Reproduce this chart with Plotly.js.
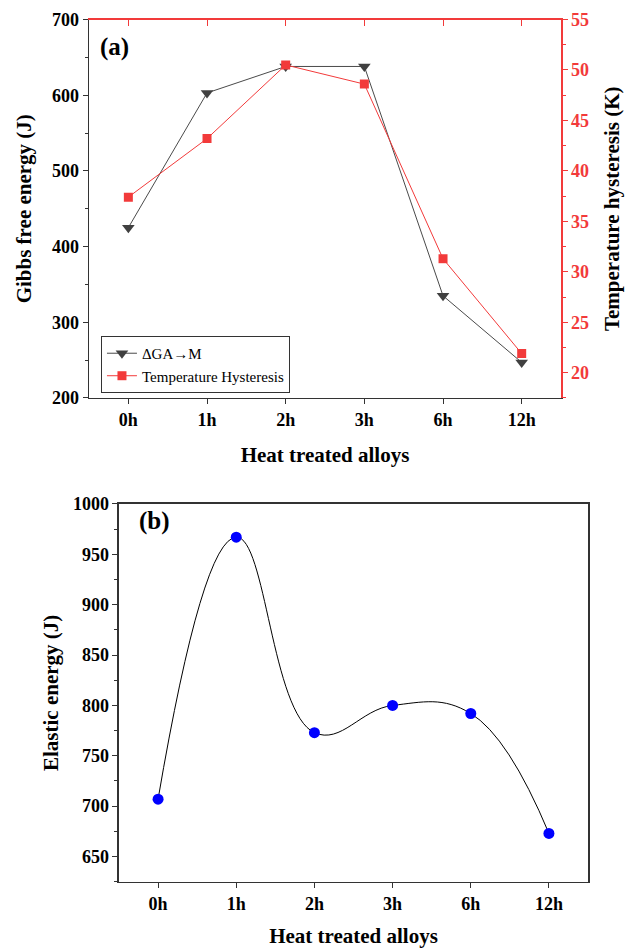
<!DOCTYPE html>
<html>
<head>
<meta charset="utf-8">
<script src="https://cdn.plot.ly/plotly-3.0.1.min.js"></script>
<style>html,body{margin:0;padding:0;background:#fff;}#chart{width:635px;height:948px;}</style>
</head>
<body>
<div id="chart"></div>
<script>
// Data
const categories = ["0h", "1h", "2h", "3h", "6h", "12h"];
const gibbsEnergy = [425, 603, 638, 638, 335, 247];
const tempHysteresis = [37.4, 43.2, 50.5, 48.6, 31.3, 21.9];
const elasticEnergy = [707, 967, 773, 800, 792, 673];

const serif = "Liberation Serif, Times New Roman, serif";
const tickFont = {family: serif, size: 18, color: "#000", weight: "bold"};
const titleFont = {family: serif, size: 21, color: "#000", weight: "bold"};
const red = "#f23a3a";

const traces = [
  {
    x: categories, y: gibbsEnergy, xaxis: "x", yaxis: "y",
    name: "ΔGA→M", mode: "lines+markers",
    line: {color: "#4a4a4a", width: 1},
    marker: {symbol: "triangle-down", size: 11, color: "#404040"}
  },
  {
    x: categories, y: tempHysteresis, xaxis: "x2", yaxis: "y2",
    name: "Temperature Hysteresis", mode: "lines+markers",
    line: {color: red, width: 1},
    marker: {symbol: "square", size: 9, color: red}
  },
  {
    x: categories, y: elasticEnergy, xaxis: "x3", yaxis: "y3",
    name: "Elastic energy", mode: "lines+markers", showlegend: false,
    line: {color: "#000", width: 1, shape: "spline", smoothing: 1.2},
    marker: {symbol: "circle", size: 11, color: "#0000ff"}
  }
];

const layout = {
  width: 635, height: 948,
  margin: {l: 0, r: 0, t: 0, b: 0},
  paper_bgcolor: "#fff", plot_bgcolor: "rgba(0,0,0,0)",
  showlegend: true,
  legend: {
    x: 0.159, y: 0.6456, xanchor: "left", yanchor: "top",
    bgcolor: "#fff", bordercolor: "#333", borderwidth: 1,
    font: {family: serif, size: 15, color: "#000"},
    tracegroupgap: 0, itemwidth: 30
  },
  xaxis: {
    domain: [0.1402, 0.8835], anchor: "y", type: "category",
    categoryorder: "array", categoryarray: categories,
    range: [-0.5, 5.5], showline: true, linecolor: "#333", linewidth: 1.5,
    ticks: "outside", ticklen: 5, tickcolor: "#333", showgrid: false, zeroline: false,
    tickfont: tickFont,
    title: {text: "Heat treated alloys", font: titleFont, standoff: 18},
    automargin: false
  },
  xaxis2: {
    overlaying: "x", side: "top", anchor: "y2", type: "category",
    categoryorder: "array", categoryarray: categories,
    range: [-0.5, 5.5], showline: true, linecolor: red, linewidth: 1.5,
    ticks: "inside", ticklen: 6, tickcolor: red, showticklabels: false,
    showgrid: false, zeroline: false, automargin: false
  },
  yaxis: {
    domain: [0.5802, 0.9794], anchor: "x",
    range: [200, 700], dtick: 100, showline: true, linecolor: "#333", linewidth: 1.5,
    ticks: "outside", ticklen: 5, tickcolor: "#333",
    minor: {ticks: "outside", ticklen: 3, dtick: 50, tickcolor: "#333"},
    showgrid: false, zeroline: false, tickfont: tickFont,
    title: {text: "Gibbs free energy (J)", font: titleFont, standoff: 14},
    automargin: false
  },
  yaxis2: {
    overlaying: "y", side: "right", anchor: "x",
    range: [17.5, 55], dtick: 5, showline: true, linecolor: red, linewidth: 1.5,
    ticks: "outside", ticklen: 5, tickcolor: red,
    minor: {ticks: "outside", ticklen: 3, dtick: 2.5, tickcolor: red},
    showgrid: false, zeroline: false,
    tickfont: {family: serif, size: 18, color: red, weight: "bold"},
    title: {text: "Temperature hysteresis (K)", font: titleFont, standoff: 16},
    automargin: false
  },
  xaxis3: {
    domain: [0.1874, 0.9260], anchor: "y3", type: "category",
    categoryorder: "array", categoryarray: categories,
    range: [-0.5, 5.5], showline: true, mirror: true, linecolor: "#333", linewidth: 1.5,
    ticks: "outside", ticklen: 5, tickcolor: "#333", showgrid: false, zeroline: false,
    tickfont: tickFont,
    title: {text: "Heat treated alloys", font: titleFont, standoff: 16},
    automargin: false
  },
  yaxis3: {
    domain: [0.0699, 0.4684], anchor: "x3",
    range: [625, 1000], dtick: 50, showline: true, mirror: true, linecolor: "#333", linewidth: 1.5,
    ticks: "outside", ticklen: 5, tickcolor: "#333",
    minor: {ticks: "outside", ticklen: 3, dtick: 25, tickcolor: "#333"},
    showgrid: false, zeroline: false, tickfont: tickFont,
    title: {text: "Elastic energy (J)", font: titleFont, standoff: 8},
    automargin: false
  },
  annotations: [
    {text: "(a)", xref: "paper", yref: "paper", x: 98/635, y: 1 - 47/948,
     xanchor: "left", yanchor: "middle", showarrow: false,
     font: {family: serif, size: 25, color: "#000", weight: "bold"}},
    {text: "(b)", xref: "paper", yref: "paper", x: 137/635, y: 1 - 521/948,
     xanchor: "left", yanchor: "middle", showarrow: false,
     font: {family: serif, size: 25, color: "#000", weight: "bold"}}
  ]
};

Plotly.newPlot("chart", traces, layout, {displayModeBar: false, staticPlot: true});
</script>
</body>
</html>
